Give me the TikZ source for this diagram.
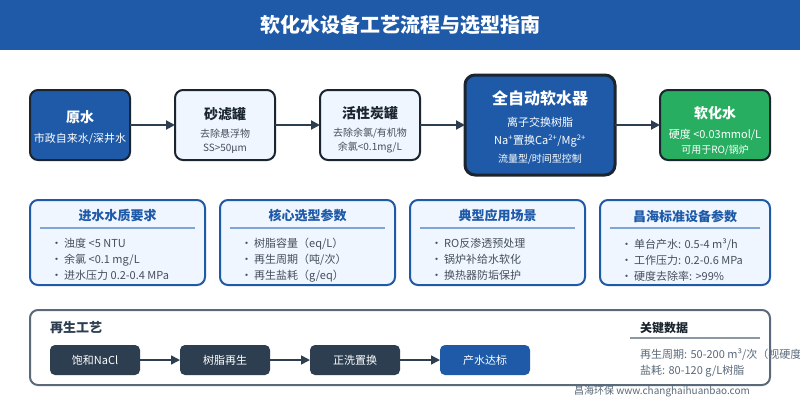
\documentclass[tikz,border=0pt]{standalone}
\usepackage{fontspec}
\setmainfont{Noto Sans CJK SC}
\usepackage{pgf,tikz}
\usetikzlibrary{arrows.meta,positioning}
\definecolor{mainblue}{HTML}{1E5AA8}
\definecolor{lightblue}{HTML}{F0F6FF}
\definecolor{darkline}{HTML}{1A252F}
\definecolor{slate}{HTML}{2C3E50}
\definecolor{softgreen}{HTML}{27AE60}
\definecolor{greyline}{HTML}{5A6A7A}
\definecolor{subtext}{HTML}{444F5A}
\definecolor{ruleblue}{HTML}{7FA6D6}
\newcommand{\fs}[2]{\fontsize{#1}{#2}\selectfont}
\newcommand{\bl}{\hspace*{-3pt}\makebox[13pt][l]{·}}

\begin{document}
\begin{tikzpicture}[x=1pt,y=-1pt,>={Triangle[length=9pt,width=9pt]},
  flow/.style={->,draw=slate,line width=2pt,shorten >=0pt},
  box/.style={rectangle,rounded corners=8pt,draw=darkline,line width=2pt,
    minimum width=100pt,minimum height=70pt,inner sep=0pt,outer sep=0pt,align=center},
  bluebox/.style={box,fill=mainblue,text=white,font=\fs{11}{14}},
  paleBox/.style={box,fill=lightblue,text=subtext,font=\fs{10}{14}},
  card/.style={rectangle,rounded corners=8pt,draw=mainblue,line width=2pt,fill=lightblue,
    minimum height=85pt,inner sep=0pt,outer sep=0pt},
  cardtitle/.style={text=mainblue,font=\fs{13}{15}\bfseries,inner sep=0pt},
  cardtext/.style={text=subtext,font=\fs{11}{16},align=left,inner sep=0pt,anchor=north west},
  cardrule/.style={draw=ruleblue,line width=1.5pt},
  stepbox/.style={rectangle,rounded corners=5pt,fill=slate,text=white,font=\fs{11}{14},
    minimum width=90pt,minimum height=30pt,inner sep=0pt,outer sep=0pt}]

  \useasboundingbox (0,0) rectangle (800,400);
  \node[rectangle,fill=mainblue,minimum width=800pt,minimum height=50pt,inner sep=0pt,
    text=white,font=\fs{20}{24}\bfseries] (header) at (400,25) {软化水设备工艺流程与选型指南};

  % top row
  \node[bluebox] (raw) at (80,125)
    {\rule{0pt}{16pt}{\fs{14}{14}\bfseries 原水}\\[6pt]市政自来水/深井水};
  \node[paleBox,right=45pt of raw] (sand)
    {\rule{0pt}{22pt}{\fs{14}{14}\bfseries\color{darkline} 砂滤罐}\\[4pt]去除悬浮物\\SS>50µm};
  \node[paleBox,right=45pt of sand] (carbon)
    {\rule{0pt}{22pt}{\fs{14}{14}\bfseries\color{darkline} 活性炭罐}\\[4pt]去除余氯/有机物\\余氯<0.1mg/L};
  \node[box,fill=mainblue,text=white,font=\fs{11}{18},line width=3pt,rounded corners=10pt,
    minimum width=150pt,minimum height=100pt,right=45pt of carbon] (softener)
    {\rule{0pt}{18pt}{\fs{16}{18}\bfseries 全自动软水器}\\[4pt]离子交换树脂\\Na\textsuperscript{+}置换Ca\textsuperscript{2+}/Mg\textsuperscript{2+}\\{\fs{10}{14}流量型/时间型控制}};
  \node[box,fill=softgreen,text=white,font=\fs{11}{15},
    minimum width=110pt,right=45pt of softener] (soft)
    {\rule{0pt}{24pt}{\fs{14}{14}\bfseries 软化水}\\[5pt]硬度 <0.03mmol/L\\{\fs{10}{14}可用于RO/锅炉}};

  \draw[flow] (raw) -- (sand);
  \draw[flow] (sand) -- (carbon);
  \draw[flow] (carbon) -- (softener);
  \draw[flow] (softener) -- (soft);

  % cards
  \node[card,minimum width=175pt] (inlet) at (117.5,242.5) {};
  \node[cardtitle] (inlettitle) at (117.5,216) {进水水质要求};
  \draw[cardrule] (40,228) -- (195,228);
  \node[cardtext] (inlettext) at (54,238) {\bl 浊度 <5 NTU\\\bl 余氯 <0.1 mg/L\\\bl 进水压力 0.2-0.4 MPa};

  \node[card,minimum width=175pt] (core) at (307.5,242.5) {};
  \node[cardtitle] (coretitle) at (307.5,216) {核心选型参数};
  \draw[cardrule] (230,228) -- (385,228);
  \node[cardtext] (coretext) at (244,238) {\bl 树脂容量（eq/L）\\\bl 再生周期（吨/次）\\\bl 再生盐耗（g/eq）};

  \node[card,minimum width=175pt] (usage) at (497.5,242.5) {};
  \node[cardtitle] (usagetitle) at (497.5,216) {典型应用场景};
  \draw[cardrule] (420,228) -- (575,228);
  \node[cardtext] (usagetext) at (434,238) {\bl RO反渗透预处理\\\bl 锅炉补给水软化\\\bl 换热器防垢保护};

  \node[card,minimum width=170pt] (spec) at (685,242.5) {};
  \node[cardtitle] (spectitle) at (685,216) {昌海标准设备参数};
  \draw[cardrule] (610,228) -- (760,228);
  \node[cardtext] (spectext) at (624,238) {\bl 单台产水: 0.5-4 m³/h\\\bl 工作压力: 0.2-0.6 MPa\\\bl 硬度去除率: >99\%};

  % regeneration
  \node[rectangle,rounded corners=8pt,draw=greyline,line width=2pt,fill=white,
    minimum width=740pt,minimum height=75pt,inner sep=0pt] (regen) at (400,347.5) {};
  \node[inner sep=0pt,anchor=west,text=slate,font=\fs{13}{15}\bfseries] (regentitle) at (50,328) {再生工艺};
  \node[stepbox] (brine) at (95,360) {饱和NaCl};
  \node[stepbox,right=40pt of brine] (resin) {树脂再生};
  \node[stepbox,right=40pt of resin] (rinse) {正洗置换};
  \node[stepbox,fill=mainblue,right=40pt of rinse] (output) {产水达标};
  \draw[flow,line width=1.5pt] (brine) -- (resin);
  \draw[flow,line width=1.5pt] (resin) -- (rinse);
  \draw[flow,line width=1.5pt] (rinse) -- (output);

  \node[inner sep=0pt,anchor=west,text=darkline,font=\fs{12}{14}\bfseries] (datatitle) at (640,328) {关键数据};
  \draw[draw=greyline!70,line width=1.5pt] (630,338) -- (760,338);
  \node[cardtext,text=greyline] (datatext) at (640,348) {再生周期: 50-200 m³/次（视硬度\\盐耗: 80-120 g/L树脂};

  \node[inner sep=0pt,text=greyline,font=\fs{10}{12}] (footer) at (662,392) {昌海环保 www.changhaihuanbao.com};
\end{tikzpicture}
\end{document}
